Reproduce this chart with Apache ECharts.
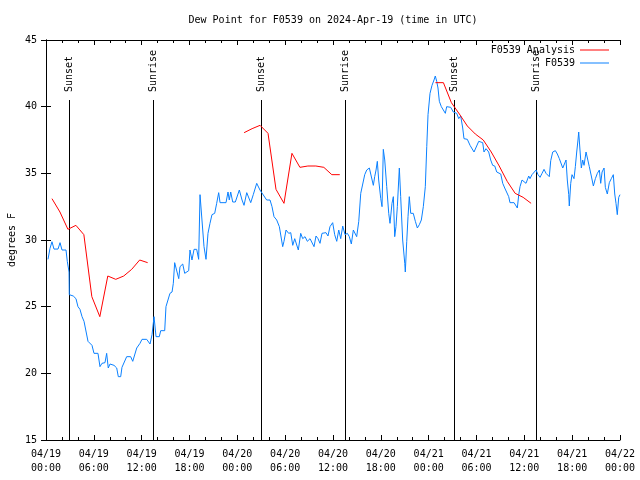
<!DOCTYPE html>
<html>
<head>
<meta charset="utf-8">
<script src="https://cdn.jsdelivr.net/npm/echarts@6/dist/echarts.min.js"></script>
<style>html,body{margin:0;padding:0;background:#fff}#c{width:640px;height:480px}</style>
</head>
<body>
<div id="c"></div>
<script>
// Hours since 2024-04-19 00:00 UTC
const xTickLabels = ['04/19\n00:00','04/19\n06:00','04/19\n12:00','04/19\n18:00','04/20\n00:00','04/20\n06:00','04/20\n12:00','04/20\n18:00','04/21\n00:00','04/21\n06:00','04/21\n12:00','04/21\n18:00','04/22\n00:00'];

const obsHours = [0.25,0.50,0.75,1.00,1.51,1.76,2.01,2.51,2.67,2.89,2.92,3.42,3.76,4.01,4.26,4.52,4.77,5.02,5.27,5.77,6.02,6.52,6.77,7.02,7.40,7.61,7.81,8.03,8.53,8.87,9.07,9.37,9.53,9.78,10.12,10.62,10.88,11.38,11.79,12.04,12.63,13.05,13.30,13.55,13.80,14.21,14.39,14.89,15.05,15.55,15.81,15.97,16.14,16.31,16.65,16.81,17.15,17.40,17.90,18.06,18.31,18.57,18.90,19.15,19.32,19.57,19.82,20.07,20.32,20.57,20.82,21.16,21.41,21.66,21.83,22.58,22.83,22.99,23.17,23.42,23.75,24.25,24.59,24.84,25.18,25.68,26.00,26.43,26.84,27.68,28.10,28.35,28.60,28.94,29.27,29.44,29.69,29.85,30.11,30.44,30.70,30.95,31.20,31.45,31.65,31.95,32.20,32.49,32.78,33.12,33.37,33.62,33.87,34.12,34.37,34.62,34.87,35.12,35.37,35.62,35.96,36.21,36.47,36.72,36.97,37.22,37.51,37.80,38.05,38.30,38.55,38.80,38.97,39.23,39.48,39.73,39.98,40.23,40.56,40.81,41.06,41.23,41.40,41.56,41.73,41.99,42.15,42.31,42.49,42.74,42.99,43.15,43.40,43.57,43.74,43.90,44.07,44.32,44.49,44.74,45.00,45.07,45.25,45.41,45.57,45.75,45.91,46.07,46.33,46.58,46.83,47.08,47.33,47.58,47.76,47.92,48.17,48.42,48.67,48.83,49.01,49.17,49.34,49.59,49.84,50.09,50.26,50.51,50.77,51.09,51.52,51.77,52.02,52.27,52.43,52.85,53.19,53.69,53.94,54.28,54.53,54.78,54.94,55.19,55.53,55.78,56.03,56.29,56.54,56.79,57.04,57.29,57.54,57.79,58.04,58.20,58.71,58.96,59.12,59.30,59.46,59.71,59.96,60.21,60.37,60.55,60.71,60.96,61.21,61.47,61.72,61.97,62.22,62.47,62.72,62.88,63.13,63.31,63.56,63.89,64.14,64.39,64.64,64.82,65.07,65.23,65.39,65.57,65.64,65.82,65.98,66.23,66.40,66.57,66.73,66.82,66.98,67.15,67.32,67.49,67.74,67.99,68.15,68.40,68.66,68.91,69.16,69.41,69.58,69.75,70.00,70.16,70.41,70.66,70.91,71.16,71.34,71.50,71.66,71.84,72.00];
const obsValues = [28.55,29.37,29.87,29.32,29.32,29.8,29.25,29.25,28.4,27.6,25.9,25.8,25.6,25.0,24.8,24.25,23.9,24.05,22.4,22.1,21.5,21.5,20.5,20.75,20.8,21.5,20.4,20.7,20.6,20.4,19.75,19.75,20.45,20.35,21.25,21.25,20.9,21.9,22.25,22.55,22.55,22.2,22.9,24.25,22.75,22.75,23.2,23.2,25.0,26.0,26.1,26.75,28.3,28.3,27.1,28.0,28.2,27.5,27.7,29.25,28.5,29.3,29.3,28.55,33.4,33.4,29.5,28.55,30.5,31.25,31.9,32.0,32.75,33.55,32.8,32.8,33.6,33.0,33.6,32.85,32.85,33.75,33.0,32.6,33.55,32.8,33.4,34.25,33.75,33.0,33.0,32.5,31.75,31.5,31.0,31.0,29.5,29.9,30.75,30.5,30.55,29.6,30.1,30.0,29.25,30.5,30.1,30.25,29.9,30.1,30.1,29.5,30.3,30.1,29.75,30.5,30.4,30.55,30.3,31.0,31.3,30.4,29.9,30.75,30.1,31.05,30.4,30.5,30.25,29.7,30.75,30.75,30.25,31.4,33.5,34.2,34.9,35.25,35.4,35.4,34.1,34.75,35.25,35.9,34.5,33.1,32.5,36.8,36.0,34.0,32.0,31.25,32.75,33.25,30.25,31.0,32.5,35.4,33.25,30.0,28.25,27.6,29.9,31.75,33.25,32.0,31.9,32.0,31.4,30.9,31.15,31.5,32.5,34.0,37.0,39.4,41.0,41.6,42.0,42.3,41.9,41.4,40.4,40.0,39.75,39.5,40.0,40.1,39.95,39.6,39.5,39.1,39.3,38.4,37.6,37.55,37.1,36.6,36.6,37.4,37.55,37.3,36.6,36.85,36.6,36.0,35.6,35.55,35.1,35.2,34.95,34.25,33.9,33.75,33.25,32.8,32.8,32.7,32.4,33.4,34.0,34.5,34.6,34.25,34.4,34.8,34.6,34.9,35.0,35.25,34.9,34.7,35.0,35.3,35.0,35.05,34.75,35.95,36.6,36.7,36.45,36.1,36.0,35.4,35.25,36.0,34.5,33.4,32.55,34.25,34.9,34.6,35.5,36.6,37.5,38.1,36.75,35.4,36.0,35.6,36.6,36.75,35.5,34.8,34.05,34.6,35.0,35.25,34.25,35.1,35.4,33.95,33.45,34.3,34.6,34.9,33.45,32.75,31.9,33.2,33.4];

const anaHours1 = [0.75,1.75,2.75,3.75,4.75,5.75,6.75,7.75,8.75,9.75,10.75,11.75,12.75];
const anaValues1 = [33.1,32.1,30.8,31.1,30.4,25.75,24.25,27.3,27.05,27.3,27.8,28.5,28.3];
const anaHours2 = [24.85,25.85,26.85,27.85,28.85,29.85,30.85,31.85,32.85,33.85,34.85,35.85,36.85];
const anaValues2 = [38.05,38.35,38.6,38.0,33.8,32.75,36.5,35.45,35.55,35.55,35.45,34.9,34.9];
const anaHours3 = [48.85,49.85,50.85,51.85,52.85,53.85,54.85,55.85,56.85,57.85,58.85,59.85,60.85];
const anaValues3 = [41.8,41.8,40.3,39.45,38.55,37.95,37.5,36.6,35.55,34.4,33.5,33.2,32.75];

const sunHours = [2.92,13.45,26.97,37.45,51.13,61.47];
const sunLabels = ['Sunset','Sunrise','Sunset','Sunrise','Sunset','Sunrise'];
const sunLineTop = 40.5;

const FONT = 'DejaVu Sans Mono';
const RED = '#ff0000';
const BLUE = '#0a80ff';

function pairs(h, v) { return h.map((t, i) => [t, v[i]]); }

const chart = echarts.init(document.getElementById('c'), null, {renderer: 'canvas'});

const xCommon = {
  type: 'value', min: 0, max: 72, interval: 6,
  axisLine: {show: true, lineStyle: {color: '#000', width: 1}},
  axisTick: {show: true, inside: true, length: 5, lineStyle: {color: '#000'}},
  minorTick: {show: true, splitNumber: 3, length: 3, lineStyle: {color: '#000'}},
  splitLine: {show: false}
};
const yCommon = {
  type: 'value', min: 15, max: 45, interval: 5,
  axisLine: {show: true, lineStyle: {color: '#000', width: 1}},
  axisTick: {show: true, inside: true, length: 5, lineStyle: {color: '#000'}},
  splitLine: {show: false}
};

const anaSeries = [[anaHours1, anaValues1], [anaHours2, anaValues2], [anaHours3, anaValues3]].map(([h, v]) => ({
  name: 'F0539 Analysis', type: 'line', data: pairs(h, v), showSymbol: false, symbol: 'none',
  lineStyle: {color: RED, width: 1}, itemStyle: {color: RED}, z: 4, animation: false
}));

chart.setOption({
  animation: false,
  title: {
    text: 'Dew Point for F0539 on 2024-Apr-19 (time in UTC)',
    left: 333, top: 15, padding: 0, textAlign: 'center',
    textStyle: {fontFamily: FONT, fontSize: 10, fontWeight: 'normal', color: '#000'}
  },
  legend: [
    {data: ['F0539 Analysis'], right: 31, top: 45, padding: 0, orient: 'vertical', align: 'right',
     icon: 'rect', itemWidth: 29, itemHeight: 1, selectedMode: false,
     textStyle: {fontFamily: FONT, fontSize: 10, color: '#000'}},
    {data: ['F0539'], right: 31, top: 58, padding: 0, orient: 'vertical', align: 'right',
     icon: 'rect', itemWidth: 29, itemHeight: 1, selectedMode: false,
     textStyle: {fontFamily: FONT, fontSize: 10, color: '#000'}}
  ],
  grid: {left: 46, right: 20, top: 40, bottom: 40, containLabel: false, outerBoundsMode: 'none'},
  xAxis: [
    Object.assign({}, xCommon, {
      position: 'bottom',
      axisLabel: {
        margin: 7, lineHeight: 14, color: '#000', fontFamily: FONT, fontSize: 10,
        formatter: v => xTickLabels[Math.round(v / 6)]
      }
    }),
    Object.assign({}, xCommon, {position: 'top', axisLabel: {show: false}})
  ],
  yAxis: [
    Object.assign({}, yCommon, {
      position: 'left',
      name: 'degrees F', nameLocation: 'middle', nameGap: 29, nameRotate: 90, nameMoveOverlap: false,
      nameTextStyle: {fontFamily: FONT, fontSize: 10, color: '#000'},
      axisLabel: {margin: 9, color: '#000', fontFamily: FONT, fontSize: 10}
    }),
    Object.assign({}, yCommon, {position: 'right', axisLabel: {show: false}})
  ],
  series: [
    {
      type: 'custom', name: 'sun', z: 1, silent: true,
      data: sunHours.map(t => [t]),
      renderItem: function (params, api) {
        const t = api.value(0);
        const p0 = api.coord([t, 15]);
        const p1 = api.coord([t, sunLineTop]);
        const x = Math.round(p0[0]) + 0.5;
        return {
          type: 'group',
          children: [
            {type: 'line', shape: {x1: x, y1: p0[1], x2: x, y2: p1[1]},
             style: {stroke: '#000', lineWidth: 1}},
            {type: 'text', x: x, y: p1[1] - 8, rotation: Math.PI / 2,
             style: {text: sunLabels[params.dataIndex], font: '10px "' + FONT + '"',
                     fill: '#000', align: 'left', verticalAlign: 'middle'}}
          ]
        };
      }
    },
    ...anaSeries,
    {
      name: 'F0539', type: 'line', data: pairs(obsHours, obsValues), showSymbol: false, symbol: 'none',
      lineStyle: {color: BLUE, width: 1}, itemStyle: {color: BLUE}, z: 3
    }
  ]
});
</script>
</body>
</html>
